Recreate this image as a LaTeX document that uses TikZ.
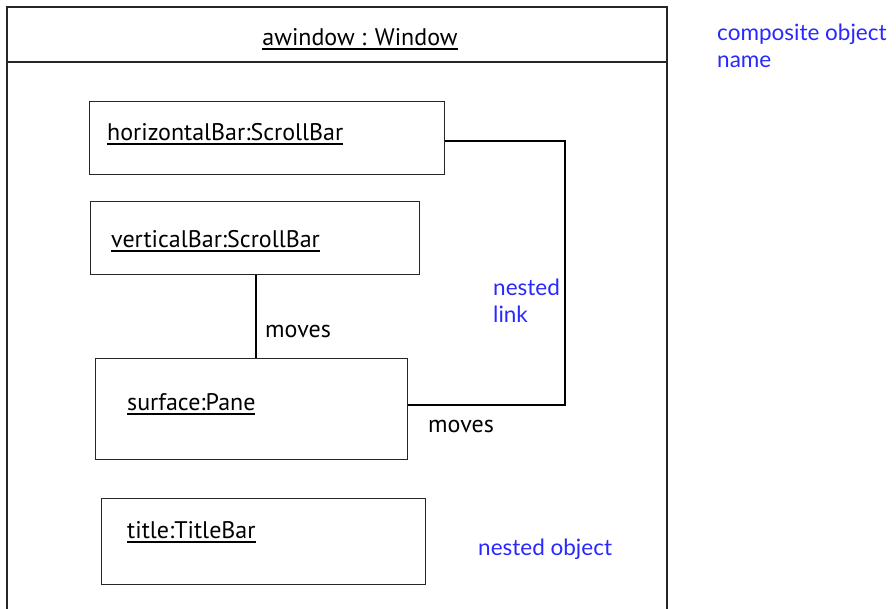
\documentclass[tikz,border=0pt]{standalone}
\usepackage{fontspec}
\setmainfont{PT Sans}
\newfontfamily\bluefont{Lato}
\definecolor{noteblue}{RGB}{40,40,255}
\newcommand\objul[1]{\setbox0\hbox{#1}\rlap{\rule[-5pt]{\wd0}{1.6pt}}\box0}
\begin{document}
\begin{tikzpicture}[x=1pt,y=-1pt,
  frame/.style={line width=1.3pt, draw=black!85},
  objbox/.style={draw=black!85, line width=1.2pt, rectangle, anchor=north west, inner sep=0pt},
  objname/.style={anchor=base west, inner sep=0pt, font=\fontsize{24}{28}\selectfont},
  linklabel/.style={anchor=base west, inner sep=0pt, font=\fontsize{24}{28}\selectfont},
  note/.style={anchor=base west, inner sep=0pt, text=noteblue, align=left, font=\bluefont\fontsize{22.5}{26.5}\selectfont},
  link/.style={line width=1.2pt}]
\useasboundingbox (0,0) rectangle (896,608);
% composite frame
\coordinate (fbl) at (7,610);
\coordinate (ftl) at (7,7);
\coordinate (ftr) at (667,7);
\coordinate (fbr) at (667,610);
\coordinate (sepl) at (7,62);
\coordinate (sepr) at (667,62);
\draw[frame] (fbl) -- (ftl) -- (ftr) -- (fbr);
\draw[frame] (sepl) -- (sepr);
\node[objname, anchor=base] (wname) at (360,45) {\objul{awindow : Window}};
% nested objects
\node[objbox, minimum width=355pt, minimum height=73pt] (hb) at (89,101) {};
\node[objname] (hbt) at (107,140) {\objul{horizontalBar:ScrollBar}};
\node[objbox, minimum width=329pt, minimum height=73pt] (vb) at (90,201) {};
\node[objname] (vbt) at (111,247) {\objul{verticalBar:ScrollBar}};
\node[objbox, minimum width=312pt, minimum height=101pt] (sp) at (95,358) {};
\node[objname] (spt) at (127,410) {\objul{surface:Pane}};
\node[objbox, minimum width=324pt, minimum height=86pt] (tb) at (101,498) {};
\node[objname] (tbt) at (127,538) {\objul{title:TitleBar}};
% links
\coordinate (vbs) at (256,274);
\draw[link] (vb.south -| vbs) -- (sp.north -| vbs);
\node[linklabel] (m1) at (265,337) {moves};
\coordinate (corner1) at (565,141);
\coordinate (corner2) at (565,405);
\draw[link, line width=1.8pt] (hb.east |- corner1) -- (corner1) -- (corner2) -- (sp.east |- corner2);
\node[linklabel] (m2) at (428,432) {moves};
% notes
\node[note] (n1) at (493,322) {nested\\link};
\node[note] (n2) at (478,555) {nested object};
\node[note] (n3) at (717,67) {composite object\\name};
\end{tikzpicture}
\end{document}
